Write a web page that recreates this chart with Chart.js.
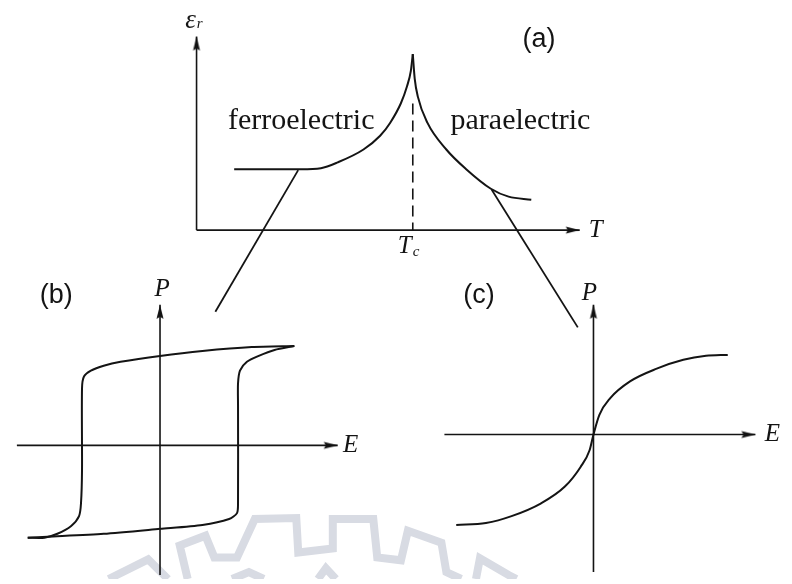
<!DOCTYPE html>
<html><head><meta charset="utf-8">
<script src="https://cdn.jsdelivr.net/npm/chart.js@4.4.1/dist/chart.umd.min.js"></script>
<style>html,body{margin:0;padding:0;background:#fff;}#wrap{width:792px;height:584px;}</style>
</head><body><div id="wrap"><canvas id="c" width="792" height="584"></canvas></div>
<script>
// ---- (a) relative permittivity vs T / Tc ----
const tFerro   = [0.174, 0.484, 0.575, 0.653, 0.772, 0.849, 0.895, 0.945, 0.973, 0.991, 1.000];
const epsFerro = [0.346, 0.346, 0.352, 0.385, 0.458, 0.536, 0.609, 0.721, 0.816, 0.905, 1.000];
const tPara    = [1.000, 1.009, 1.023, 1.068, 1.155, 1.247, 1.361, 1.443, 1.548];
const epsPara  = [1.000, 0.860, 0.760, 0.609, 0.458, 0.346, 0.235, 0.190, 0.173];
const tCurie   = [1, 1];
const epsCurie = [0.72, 0];
// connectors from (a) branches toward panels (b) and (c), in (a) units
const connLeftT  = [0.470, 0.087];
const connLeftE  = [0.341, -0.464];
const connRightT = [1.365, 1.763];
const connRightE = [0.229, -0.553];

// ---- (b) ferroelectric hysteresis loop, E / Ec and P / Pr ----
const loopDownE = [1.722, 1.177, 0.544, 0.000, -0.506, -0.722, -0.886, -0.975, -1.000, -1.000, -1.013, -1.038, -1.139, -1.316, -1.481, -1.696];
const loopDownP = [1.110, 1.099, 1.055, 1.000, 0.934, 0.890, 0.835, 0.769, 0.637, -0.275, -0.648, -0.791, -0.901, -0.989, -1.033, -1.033];
const loopUpE   = [-1.696, -1.443, -0.722, 0.000, 0.544, 0.886, 0.987, 1.000, 1.000, 1.000, 1.025, 1.114, 1.266, 1.468, 1.722];
const loopUpP   = [-1.033, -1.022, -0.989, -0.934, -0.890, -0.824, -0.758, -0.648, 0.451, 0.692, 0.835, 0.934, 1.000, 1.066, 1.110];

// ---- (c) paraelectric P(E) ----
const paraE = [-1.022, -0.801, -0.610, -0.390, -0.213, -0.096, -0.029, 0.000, 0.044, 0.125, 0.272, 0.471, 0.669, 0.838, 1.000];
const paraP = [-1.136, -1.111, -1.025, -0.864, -0.654, -0.407, -0.198, 0.000, 0.247, 0.457, 0.667, 0.827, 0.938, 0.988, 1.000];

// axis extents (data units of each panel)
const axisA = { tMax: 1.772, epsMax: 1.100 };
const axisB = { eMin: -1.835, eMax: 2.278, pMin: -1.451, pMax: 1.571 };
const axisC = { eMin: -1.110, eMax: 1.206, pMin: -1.728, pMax: 1.630 };

// faint gear watermark (page units)
const wmX = [105,145,165,null,185,177,203,212,235,253,295,297,332,332,373,377,401,408,442,447,462,null,477,481,510,518,null,230,247,262,null,317,325,335];
const wmY = [584,564,584,null,584,550,540,562,562,523,522,557,553,523,523,562,565,535,547,577,584,null,584,563,580,584,null,584,577,584,null,584,573,584];

const W = 792, H = 584;
function xRange(originPx, ppu){ return {min: -originPx/ppu, max: (W-originPx)/ppu}; }
function yRange(originPx, ppu){ return {min: (originPx-H)/ppu, max: originPx/ppu}; }
const zip = (xs, ys) => xs.map((x,i) => (x===null ? {x:NaN,y:NaN} : {x, y: ys[i]}));

function arrowHead(){
  const c = document.createElement('canvas'); c.width = 30; c.height = 10;
  const g = c.getContext('2d'); g.fillStyle = '#111';
  g.beginPath(); g.moveTo(15,5); g.lineTo(1,1.5); g.lineTo(3,5); g.lineTo(1,8.5); g.closePath(); g.fill();
  return c;
}
const ARROW = arrowHead();
const INK = '#141414';

function curve(xs, ys, xAxisID, yAxisID, extra){
  return Object.assign({data: zip(xs, ys), xAxisID, yAxisID, showLine: true, borderColor: INK,
    borderWidth: 2, pointRadius: 0, fill: false, tension: 0}, extra||{});
}
function axis(x0, y0, x1, y1, xAxisID, yAxisID, rot){
  return {data: [{x:x0,y:y0},{x:x1,y:y1}], xAxisID, yAxisID, showLine: true, borderColor: INK,
    borderWidth: 1.6, pointStyle: ARROW, pointRotation: rot, pointRadius: c => c.dataIndex === 1 ? 5 : 0,
    pointBackgroundColor: INK, pointBorderWidth: 0, fill: false};
}

const SERIF_I = 'italic 25px "Liberation Serif", serif';
const SANS = '27px "Liberation Sans", Arial';
const labels = [
  {text:'(a)', xs:'xa', ys:'ya', x:1.584, y:1.085, font:SANS},
  {text:'ferroelectric', xs:'xa', ys:'ya', x:0.484, y:0.620, font:'30px "Liberation Serif", serif'},
  {text:'paraelectric', xs:'xa', ys:'ya', x:1.498, y:0.620, font:'30px "Liberation Serif", serif'},
  {text:'T', xs:'xa', ys:'ya', x:axisA.tMax, y:0, dx:16, dy:0, font:SERIF_I},
  {text:'\u03B5', sub:'r', xs:'xa', ys:'ya', x:0, y:axisA.epsMax, dx:-6, dy:-16, font:'italic 27px "Liberation Serif", serif', subFont:'italic 15px "Liberation Serif", serif', subDx:1, subDy:4},
  {text:'T', sub:'c', xs:'xa', ys:'ya', x:1, y:0, dx:-8, dy:16, font:SERIF_I, subFont:'italic 15px "Liberation Serif", serif', subDx:1, subDy:6},
  {text:'(b)', xs:'xb', ys:'yb', x:-1.330, y:1.680, font:SANS},
  {text:'P', xs:'xb', ys:'yb', x:0, y:axisB.pMax, dx:2, dy:-15, font:SERIF_I},
  {text:'E', xs:'xb', ys:'yb', x:axisB.eMax, y:0, dx:13, dy:0, font:SERIF_I},
  {text:'(c)', xs:'xc', ys:'yc', x:-0.853, y:1.741, font:SANS},
  {text:'P', xs:'xc', ys:'yc', x:0, y:axisC.pMax, dx:-4, dy:-11, font:SERIF_I},
  {text:'E', xs:'xc', ys:'yc', x:axisC.eMax, y:0, dx:17, dy:0, font:SERIF_I}
];

const textPlugin = {
  id: 'diagramText',
  afterDatasetsDraw(chart){
    const ctx = chart.ctx;
    for (const L of labels){
      const px = chart.scales[L.xs].getPixelForValue(L.x) + (L.dx||0);
      const py = chart.scales[L.ys].getPixelForValue(L.y) + (L.dy||0);
      ctx.save(); ctx.fillStyle = INK; ctx.font = L.font; ctx.textAlign = 'center'; ctx.textBaseline = 'middle';
      ctx.fillText(L.text, px, py);
      if (L.sub){
        const w = ctx.measureText(L.text).width;
        ctx.font = L.subFont; ctx.textAlign = 'left';
        ctx.fillText(L.sub, px + w/2 + L.subDx, py + L.subDy);
      }
      ctx.restore();
    }
  }
};

const sA = {x: xRange(194, 219), y: yRange(229, 179)};
const sB = {x: xRange(157, 79),  y: yRange(448, 91)};
const sC = {x: xRange(596, 136), y: yRange(437, 81)};
const hidden = r => Object.assign({type:'linear', display:false}, r);

new Chart(document.getElementById('c'), {
  type: 'scatter',
  data: { datasets: [
    // panel (a)
    curve(tFerro, epsFerro, 'xa', 'ya', {cubicInterpolationMode:'monotone'}),
    curve(tPara, epsPara, 'xa', 'ya', {cubicInterpolationMode:'monotone'}),
    curve(tCurie, epsCurie, 'xa', 'ya', {borderDash:[11,6], borderWidth:1.6}),
    axis(0, 0, axisA.tMax, 0, 'xa', 'ya', 0),
    axis(0, 0, 0, axisA.epsMax, 'xa', 'ya', -90),
    curve(connLeftT, connLeftE, 'xa', 'ya', {borderWidth:1.8}),
    curve(connRightT, connRightE, 'xa', 'ya', {borderWidth:1.8}),
    // panel (b)
    curve(loopDownE, loopDownP, 'xb', 'yb', {tension:0.25}),
    curve(loopUpE, loopUpP, 'xb', 'yb', {tension:0.25}),
    axis(axisB.eMin, 0, axisB.eMax, 0, 'xb', 'yb', 0),
    axis(0, axisB.pMin, 0, axisB.pMax, 'xb', 'yb', -90),
    // panel (c)
    curve(paraE, paraP, 'xc', 'yc', {cubicInterpolationMode:'monotone'}),
    axis(axisC.eMin, 0, axisC.eMax, 0, 'xc', 'yc', 0),
    axis(0, axisC.pMin, 0, axisC.pMax, 'xc', 'yc', -90),
    // watermark (drawn behind)
    curve(wmX, wmY, 'xw', 'yw', {borderColor:'rgb(216,219,227)', borderWidth:8, spanGaps:false, order:10, borderJoinStyle:'miter'})
  ]},
  options: {
    responsive: false, animation: false, devicePixelRatio: 1, events: [],
    layout: {padding: 0},
    plugins: {legend: {display:false}, tooltip: {enabled:false}},
    scales: {
      xa: hidden(Object.assign({axis:'x'}, sA.x)), ya: hidden(Object.assign({axis:'y'}, sA.y)),
      xb: hidden(Object.assign({axis:'x'}, sB.x)), yb: hidden(Object.assign({axis:'y'}, sB.y)),
      xc: hidden(Object.assign({axis:'x'}, sC.x)), yc: hidden(Object.assign({axis:'y'}, sC.y)),
      xw: hidden({axis:'x', min:0, max:W}), yw: hidden({axis:'y', min:0, max:H, reverse:true})
    }
  },
  plugins: [textPlugin]
});
</script>
</body></html>
